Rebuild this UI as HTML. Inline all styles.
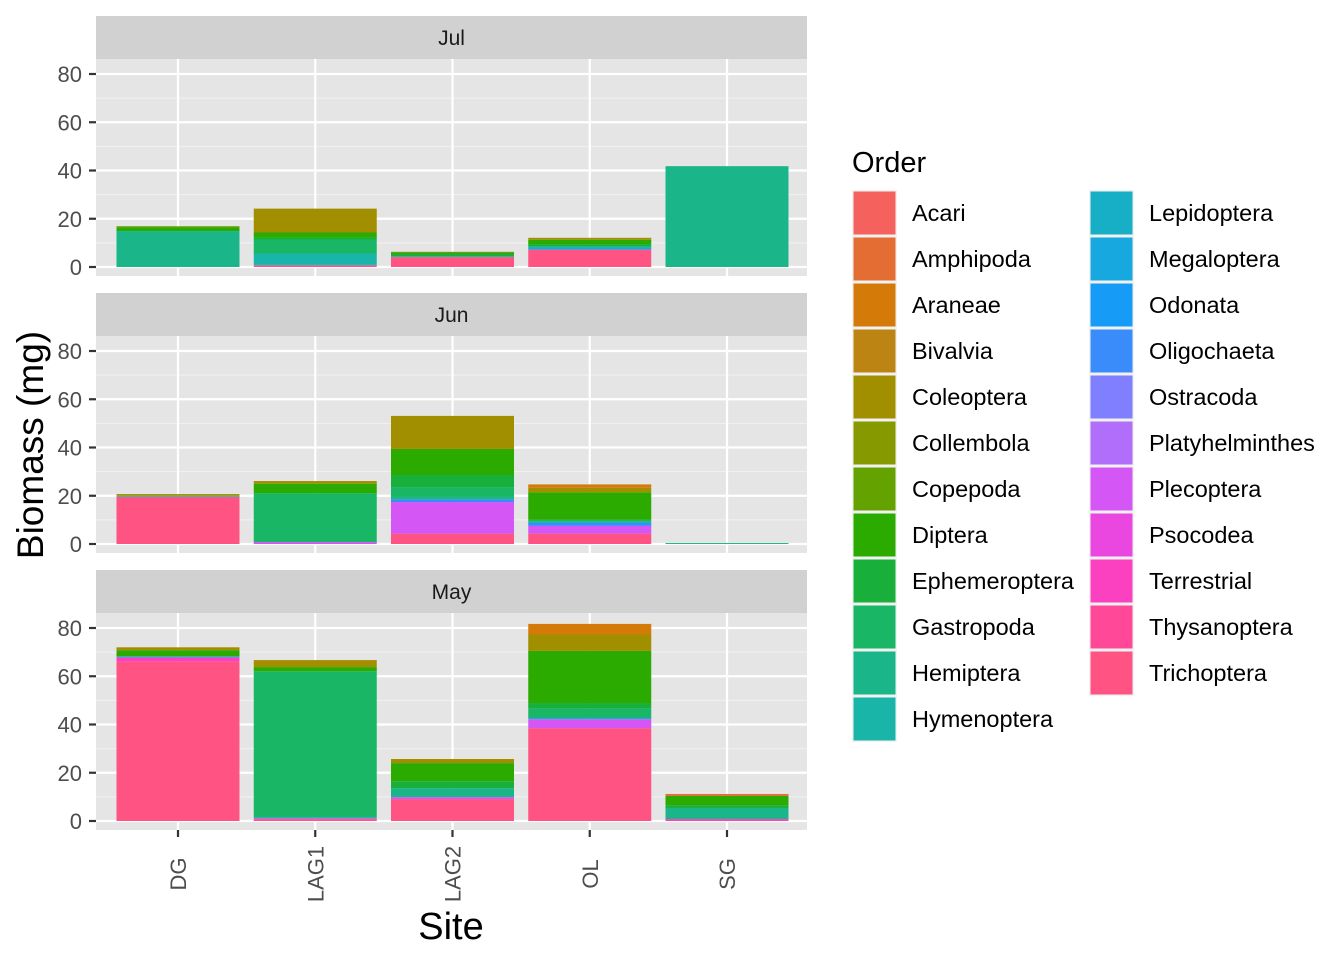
<!DOCTYPE html>
<html><head><meta charset="utf-8"><style>
html,body{margin:0;padding:0;background:#fff}
svg{display:block;font-family:"Liberation Sans",Arial,sans-serif}
</style></head><body>
<svg id="chart" width="1344" height="960"></svg>
<script>
const orders=["Acari","Amphipoda","Araneae","Bivalvia","Coleoptera","Collembola","Copepoda","Diptera","Ephemeroptera","Gastropoda","Hemiptera","Hymenoptera","Lepidoptera","Megaloptera","Odonata","Oligochaeta","Ostracoda","Platyhelminthes","Plecoptera","Psocodea","Terrestrial","Thysanoptera","Trichoptera"];
const colors=["#F5625D","#E46D33","#D47A08","#BC8412","#A28F00","#869A00","#64A200","#2BAA00","#18B03A","#19B665","#1AB68A","#19B5A9","#16AFC6","#18A8E0","#169CF6","#3A8CFA","#7F7FFF","#B06EFB","#D456F5","#EA46E0","#FB41C0","#FF4898","#FF5384"];
const sites=["DG","LAG1","LAG2","OL","SG"];
const months=["Jul","Jun","May"];
const yTicks=[0,20,40,60,80];
const julDG={Hemiptera:14.9,Diptera:1.5,Copepoda:0.5};
const julLAG1={Trichoptera:0.7,Lepidoptera:0.3,Hymenoptera:4.6,Gastropoda:5.8,Ephemeroptera:0.8,Diptera:2.1,Coleoptera:9.9};
const julLAG2={Trichoptera:4.1,Hemiptera:0.4,Ephemeroptera:1.1,Diptera:0.4,Coleoptera:0.3};
const julOL={Trichoptera:7.2,Megaloptera:0.7,Hemiptera:0.8,Ephemeroptera:0.8,Diptera:1.8,Coleoptera:0.8};
const julSG={Hemiptera:41.8};
const junDG={Trichoptera:19.6,Hemiptera:0.4,Collembola:0.3,Coleoptera:0.4};
const junLAG1={Plecoptera:0.8,Gastropoda:20.3,Diptera:3.9,Coleoptera:1.1};
const junLAG2={Trichoptera:4.3,Plecoptera:13.1,Oligochaeta:1.1,Hemiptera:1.0,Gastropoda:4.1,Ephemeroptera:5.0,Diptera:10.8,Coleoptera:13.7};
const junOL={Trichoptera:4.3,Plecoptera:3.2,Oligochaeta:1.2,Lepidoptera:0.5,Gastropoda:0.5,Ephemeroptera:0.5,Diptera:11.2,Coleoptera:1.9,Araneae:1.4};
const junSG={Hemiptera:0.4};
const mayDG={Trichoptera:66.0,Terrestrial:1.8,Lepidoptera:0.5,Diptera:2.5,Coleoptera:1.2};
const mayLAG1={Trichoptera:0.7,Terrestrial:0.4,Lepidoptera:0.5,Gastropoda:60.5,Diptera:1.7,Coleoptera:2.9};
const mayLAG2={Trichoptera:9.1,Plecoptera:0.8,Hemiptera:3.7,Ephemeroptera:2.9,Diptera:7.5,Coleoptera:1.7};
const mayOL={Trichoptera:38.5,Plecoptera:3.7,Lepidoptera:0.7,Gastropoda:3.9,Ephemeroptera:2.1,Diptera:21.6,Coleoptera:6.8,Araneae:4.4};
const maySG={Terrestrial:0.8,Hemiptera:4.6,Ephemeroptera:1.1,Diptera:3.9,Amphipoda:0.8};
const data=[[julDG,julLAG1,julLAG2,julOL,julSG],[junDG,junLAG1,junLAG2,junOL,junSG],[mayDG,mayLAG1,mayLAG2,mayOL,maySG]];

const NS="http://www.w3.org/2000/svg";
const svg=document.getElementById('chart');
function mk(tag,attrs,parent,text){const e=document.createElementNS(NS,tag);for(const k in attrs)e.setAttribute(k,attrs[k]);if(text!==undefined)e.textContent=text;(parent||svg).appendChild(e);return e;}
const PX0=96,PX1=807;
const panelTops=[59,336,613];
const stripTops=[16,293,570];
const pxPerUnit=193/80;
const xScale=i=>178+i*137.25;
const bw=123;

months.forEach((m,mi)=>{
  const g=mk('g',{},svg);
  
  
  const st=mk('rect',{x:PX0,y:stripTops[mi],width:PX1-PX0,height:43,fill:'#D1D1D1'},g);
  
  
  const lab=mk('text',{x:(PX0+PX1)/2,y:stripTops[mi]+29,'text-anchor':'middle','font-size':'21','fill':'#1A1A1A'},g,m);
  
  
  const top=panelTops[mi], bot=top+217, zero=top+208;
  const yS=v=>zero-v*pxPerUnit;
  mk('rect',{x:PX0,y:top,width:PX1-PX0,height:217,fill:'#E5E5E5'},g);
  for(let v=10;v<=80;v+=20) mk('line',{x1:PX0,x2:PX1,y1:yS(v),y2:yS(v),stroke:'#F2F2F2','stroke-width':1.1},g);
  yTicks.forEach(v=>{
    mk('line',{x1:PX0,x2:PX1,y1:yS(v),y2:yS(v),stroke:'#fff','stroke-width':2.2},g);
    mk('line',{x1:89,x2:96,y1:yS(v),y2:yS(v),stroke:'#333','stroke-width':2.2},g);
    const t=mk('text',{x:82,y:yS(v)+8,'text-anchor':'end','font-size':'22',fill:'#4D4D4D'},g,String(v));
    
    
  });
  sites.forEach((s,si)=>mk('line',{x1:xScale(si),x2:xScale(si),y1:top,y2:bot,stroke:'#fff','stroke-width':2.2},g));
  sites.forEach((s,si)=>{
    const d=data[mi][si];let cum=0;
    for(let oi=orders.length-1;oi>=0;oi--){
      const v=d[orders[oi]];if(!v)continue;
      const r=mk('rect',{x:xScale(si)-bw/2,y:yS(cum+v),width:bw,height:v*pxPerUnit,fill:colors[oi]},g);
      
      
      cum+=v;
    }
  });
});
sites.forEach((s,si)=>{
  mk('line',{x1:xScale(si),x2:xScale(si),y1:830,y2:837,stroke:'#333','stroke-width':2.2});
  const t=mk('text',{x:0,y:0,transform:`translate(${xScale(si)+8},874) rotate(-90)`,'text-anchor':'middle','font-size':'22',fill:'#4D4D4D'},svg,s);
  
  
});
const xt=mk('text',{x:451,y:939,'text-anchor':'middle','font-size':'38',fill:'#000'},svg,'Site');


const yt=mk('text',{x:0,y:0,transform:'translate(43,445) rotate(-90)','text-anchor':'middle','font-size':'37',fill:'#000'},svg,'Biomass (mg)');


const lt=mk('text',{x:852,y:172,'font-size':'29',fill:'#000'},svg,'Order');


orders.forEach((o,i)=>{
  const col=i<12?0:1,row=i<12?i:i-12;
  const kx=col?1089:852, lx=col?1149:912, ky=190+row*46;
  const g=mk('g',{},svg);
  
  
  mk('rect',{x:kx,y:ky,width:45,height:46,fill:'#F2F2F2'},g);
  mk('rect',{x:kx+1.5,y:ky+1.5,width:42,height:43,fill:colors[i]},g);
  mk('text',{x:lx,y:ky+31,'font-size':'23.5',fill:'#000'},g,o);
});
</script>
</body></html>
